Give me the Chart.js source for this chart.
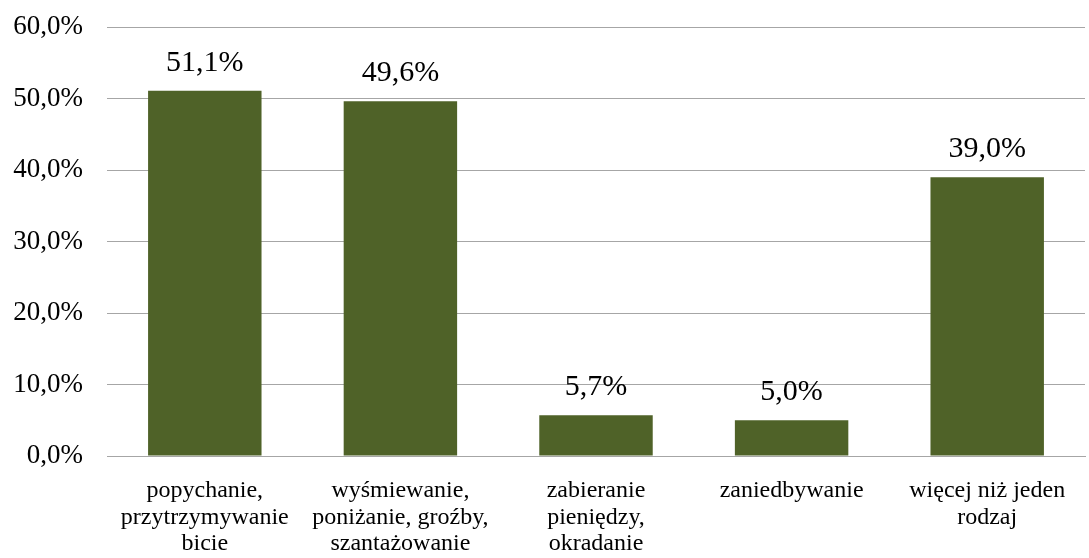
<!DOCTYPE html>
<html>
<head>
<meta charset="utf-8">
<script src="https://cdn.jsdelivr.net/npm/chart.js@4/dist/chart.umd.min.js"></script>
<style>
  html, body { margin: 0; padding: 0; background: #fff; }
  #wrap { width: 1089px; height: 558px; }
</style>
</head>
<body>
<div id="wrap"><canvas id="chart"></canvas></div>
<script>
const categories = [
  ['popychanie,', 'przytrzymywanie', 'bicie'],
  ['wyśmiewanie,', 'poniżanie, groźby,', 'szantażowanie'],
  ['zabieranie', 'pieniędzy,', 'okradanie'],
  'zaniedbywanie',
  ['więcej niż jeden', 'rodzaj']
];
const values = [51.1, 49.6, 5.7, 5.0, 39.0];
const yTicks = [0, 10, 20, 30, 40, 50, 60];

const serif = '"Liberation Serif", "Times New Roman", serif';
const fmt = v => v.toFixed(1).replace('.', ',') + '%';

// value labels above the bars
const barLabels = {
  id: 'barLabels',
  afterDatasetsDraw(chart) {
    const ctx = chart.ctx;
    ctx.save();
    ctx.font = '30px ' + serif;
    ctx.fillStyle = '#000';
    ctx.textAlign = 'center';
    ctx.textBaseline = 'alphabetic';
    chart.getDatasetMeta(0).data.forEach((bar, i) => {
      ctx.fillText(fmt(values[i]), bar.x, bar.y - 20);
    });
    ctx.restore();
  }
};

new Chart(document.getElementById('chart').getContext('2d'), {
  type: 'bar',
  data: {
    labels: categories,
    datasets: [{
      data: values,
      backgroundColor: '#4F6228',
      borderWidth: 0,
      barPercentage: 0.58,
      categoryPercentage: 1
    }]
  },
  options: {
    responsive: true,
    maintainAspectRatio: false,
    animation: false,
    layout: { padding: { top: 27, right: 4, left: 0, bottom: 0 } },
    plugins: {
      legend: { display: false },
      tooltip: { enabled: false }
    },
    scales: {
      x: {
        grid: { display: false, drawTicks: false },
        border: { display: true, color: '#A6A6A6', width: 1 },
        ticks: {
          color: '#000',
          padding: 21,
          maxRotation: 0,
          autoSkip: false,
          font: { family: serif, size: 24, lineHeight: 1.12 }
        },
        afterFit: s => { s.height = 102; }
      },
      y: {
        min: 0,
        max: 60,
        afterBuildTicks: s => { s.ticks = yTicks.map(v => ({ value: v })); },
        grid: { color: '#A6A6A6', lineWidth: 1, drawTicks: false },
        border: { display: false },
        ticks: {
          color: '#000',
          padding: 24,
          font: { family: serif, size: 27 },
          callback: v => fmt(v)
        },
        afterFit: s => { s.width = 107; s.paddingTop = 0; s.paddingBottom = 0; }
      }
    }
  },
  plugins: [barLabels]
});
</script>
</body>
</html>
